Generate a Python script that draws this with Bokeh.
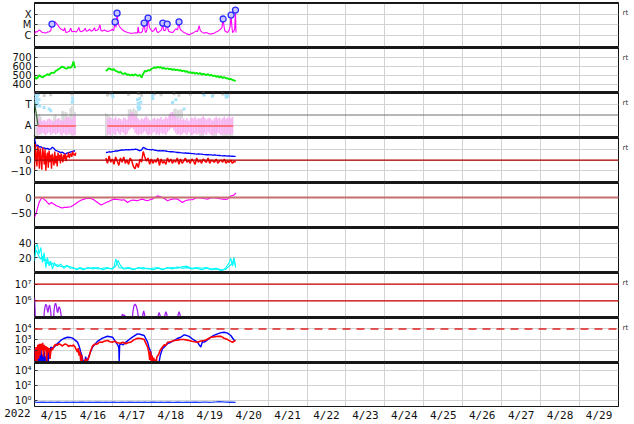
import numpy as np
from bokeh.plotting import figure
from bokeh.layouts import column, row
from bokeh.models import Range1d, FixedTicker, Span, LinearAxis, LogAxis
from bokeh.embed import file_html
from bokeh.resources import INLINE

# ---------------- labels ----------------
day_labels = ["4/15", "4/16", "4/17", "4/18", "4/19", "4/20", "4/21", "4/22",
              "4/23", "4/24", "4/25", "4/26", "4/27", "4/28", "4/29"]
year_label = "2022"
rt_label = "rt"

# ---------------- data (time in hours since 2022-04-15 00 UT) ----------------
# X-ray flux in units of 1e-6 W/m2 (C1 = 1, M1 = 10, X1 = 100)
xray = [(0,1.5),(0.8,2.5),(1.5,2.2),(2.8,3.4),(4,2.6),(4.9,2.0),(6,1.9),(7,1.8),(8,2.2),(9,2.4),
        (10,2.9),(10.8,12),(11.3,14),(12,18),(12.5,20),(13,17),(14,11),(15,7),(16,4.5),(17.3,3.4),
        (18,3.0),(18.6,5.5),(19.3,2.0),(20.5,2.3),(21.5,2.6),(22.3,5.0),(23,2.4),(24.5,2.6),(25.5,2.2),
        (26.5,3.0),(27.3,6.0),(28,2.8),(29,2.4),(30.5,3.2),(31.3,5.0),(32,2.6),(33,3.0),(34,4.0),
        (35,2.7),(36,3.2),(37,5.5),(37.6,2.9),(38.5,3.3),(39.5,4.2),(40.3,10.5),(41,3.0),(42,2.8),
        (43,3.5),(44,3.0),(45,2.5),(46,2.8),(47,3.1),(48,4.0),(48.8,3.0),(49.7,19),(50.2,6),(50.9,120),
        (51.4,24),(52,9),(52.8,5.9),(54.3,3.4),(55.5,2.6),(57.3,2.0),(59.4,1.7),(61,1.8),(62.5,1.9),
        (63.5,1.8),(63.9,6.8),(64.4,1.9),(65.5,1.9),(66.5,2.5),(67.6,15),(68.1,3.0),(68.6,2.0),(69.3,3.5),
        (70,43),(70.5,12),(70.9,5.9),(71.8,3.5),(72.7,2.5),(73.5,3.0),(74.8,5.9),(75.4,2.5),(76.2,2.0),
        (77.2,2.6),(78.3,3.5),(79.1,15),(79.5,4.0),(79.9,2.9),(80.8,3.5),(81.8,12),(82.3,4.0),(82.8,2.5),
        (84,2.2),(85.1,2.0),(86.2,3.0),(87.1,4.5),(88.2,3.5),(89.1,19),(89.6,5.0),(90.2,3.4),(91.2,2.6),
        (92.2,2.0),(93.5,1.6),(95.3,1.25),(96.3,1.5),(97.4,1.7),(98.5,2.2),(99.5,2.7),(100.5,2.5),
        (101.5,8.5),(102.2,3.0),(103.3,2.2),(104.6,1.7),(105.7,2.0),(106.7,1.8),(107.7,1.5),(108.7,1.5),
        (109.7,1.6),(110.7,1.7),(111.8,2.2),(112.8,2.5),(113.8,3.2),(114.9,4.5),(115.6,6.0),(116.3,35),
        (116.8,8.0),(117.3,2.9),(118.2,2.4),(119,2.0),(120,3.5),(120.6,7.0),(121.2,80),(121.6,10),
        (122.1,2.0),(122.8,2.6),(123.4,4.0),(123.9,230),(124.2,2.0)]
flare_h = [10.8, 49.7, 50.9, 67.6, 70.0, 79.1, 81.8, 89.1, 116.3, 121.2, 123.9]
flare_c = [12, 19, 120, 15, 43, 15, 12, 19, 35, 80, 230]

# solar wind speed (km/s), hourly
speed1_start = 0
speed1 = [489, 462, 478, 504, 486, 478, 494, 502, 515, 505, 524, 533, 527, 550, 560, 572,
          584, 600, 590, 580, 577, 592, 585, 598, 655, 582]
speed2_start = 44
speed2 = [548, 566, 580, 570, 562, 571, 550, 545, 532, 540, 522, 518, 527, 508, 512, 500,
          510, 498, 515, 502, 496, 507, 476, 520, 550, 545, 560, 555, 572, 580, 590, 583,
          596, 588, 592, 576, 584, 572, 580, 568, 575, 562, 570, 558, 566, 555, 560, 548,
          556, 540, 548, 530, 538, 526, 534, 520, 530, 515, 528, 510, 518, 512, 505, 515,
          498, 508, 494, 500, 485, 494, 478, 490, 472, 482, 468, 470, 458, 462, 450, 446, 436]

# IMF sector (angle, deg): pink/grey/blue samples
pink1_start = 2
pink1_hi = [205, 195, 180, 176, 185, 172, 190, 196, 188, 178, 170, 186, 192, 200, 185, 176,
            182, 198, 204, 210, 195, 188, 215, 220]
pink1_lo = [70, 62, 75, 80, 66, 58, 72, 84, 60, 68, 76, 64, 70, 82, 62, 56, 74, 66, 58, 70,
            80, 62, 55, 60]
pink2_start = 45
pink2_hi = [200, 190, 205, 185, 195, 210, 188, 200, 192, 180, 205, 198, 186, 210, 235, 250,
            240, 225, 205, 195, 182, 200, 190, 205, 215, 198, 186, 176, 195, 204, 188, 200,
            192, 208, 185, 195, 210, 198, 230, 245, 250, 236, 215, 200, 190, 205, 186, 196,
            182, 200, 175, 190, 205, 196, 210, 188, 200, 195, 205, 215, 200, 188, 196, 205,
            190, 180, 200, 210, 195, 205, 188, 200, 212, 195, 205, 215, 200, 210]
pink2_lo = [60, 72, 55, 80, 66, 58, 90, 70, 62, 85, 75, 58, 68, 95, 110, 120, 105, 80, 66, 58,
            72, 64, 80, 92, 70, 58, 66, 60, 75, 88, 62, 70, 58, 80, 66, 72, 60, 84, 100, 115,
            120, 98, 76, 62, 70, 58, 66, 80, 72, 60, 85, 70, 58, 66, 75, 62, 70, 80, 58, 66,
            72, 60, 84, 70, 58, 66, 75, 62, 80, 70, 58, 66, 72, 60, 68, 75, 62, 70]
grey_ranges = [(0,60,240),(1,55,230),(2,50,220),(3,60,235),(4,65,210),(12,100,215),(13,95,230),
               (17,150,260),(18,140,255),(19,160,250),(20,150,245),(22,60,280),(23,55,300),
               (24,50,270),(25,60,250),(44,50,240),(45,55,230),(46,60,220),(58,170,270),
               (59,180,275),(60,175,265),(61,185,280),(62,170,270),(63,180,260),(86,190,275),
               (87,200,280),(88,195,270),(89,190,265),(90,200,275),(91,195,270),(102,50,190),
               (103,55,185),(104,45,180),(110,50,175),(111,55,185),(112,48,180),(116,50,190),
               (117,55,195),(118,45,185),(119,50,180),(120,45,175),(121,50,185),(122,55,190)]
grey_pts = [(0.5,395),(2,400),(6,385),(10,392),(23,398),(45,390),(47,400),(58,395),(64,402),
            (66,388),(74,398),(78,392),(86,400),(89,388),(96,396),(104,402),(110,395),(116,398),
            (119,392)]
blue_pts = [(0.2,330),(0.5,360),(0.8,390),(1.0,300),(1.2,345),(1.6,370),(2.0,320),(2.4,395),
            (2.8,350),(3.2,300),(5.9,287),(9,274),(10,260),(23.2,330),(23.4,365),(23.6,340),
            (48.1,390),(48.3,375),(63.5,350),(63.8,290),(64,320),(64.2,270),(64.5,300),(64.8,360),
            (65,280),(65.5,330),(72.7,385),(72.9,360),(85.1,328),(87.1,350),(92.2,274),
            (104.6,390),(109.7,380),(118,390),(118.2,370),(119,380)]
sector_h = [0.0, 2.2]
sector_v = [330, 140]
away_segments = [(2.2, 25.5), (45.0, 122.5)]
T_ANGLE, A_ANGLE, MID_ANGLE = 315, 135, 225

# IMF Bt (blue, hourly) and Bz (red; half-hourly on 4/15, hourly afterwards), nT
bt1 = [20, 13, 14, 12, 12.5, 11, 11.5, 10.5, 11, 10, 10.5, 12, 11, 9, 8.5, 8, 7, 7.5, 6.5,
       5.5, 6.5, 7, 7.5, 8, 8.5, 8.5]
bz1_half = [-9, 15, 4, -6, 13, 8, -8, 11, 2, -9, 12, 6, -4, 10, -10, 3, 7, -7, 9, -2, 5, -8, 6,
            1, -5, 8, -3, 4, -6, 7, 0, 5, -3, 6, 2, -2, 5, 1, 6, -1, 4, 3, 7, 2, 5, 6, 3, 8, 5,
            6, 4, 7]
bt2 = [7.1, 7.3, 7.8, 7.5, 8.0, 8.2, 8.7, 8.5, 8.9, 9.2, 9.6, 9.4, 9.7, 9.5, 9.8, 9.6, 10.0,
       9.8, 10.3, 10.1, 9.4, 8.7, 9.6, 11.8, 11.2, 10.3, 10.0, 9.8, 9.6, 9.9, 9.2, 9.0, 8.7,
       8.9, 8.6, 8.8, 8.7, 8.5, 8.2, 8.0, 7.8, 8.0, 7.6, 7.4, 7.1, 7.3, 6.9, 6.7, 6.5, 6.8,
       6.4, 6.5, 6.3, 6.0, 6.1, 5.8, 5.6, 5.8, 5.5, 5.6, 5.3, 5.2, 5.0, 5.2, 4.9, 4.8, 4.7,
       4.9, 4.6, 4.4, 4.3, 4.1, 4.0, 4.2, 4.0, 3.8, 4.0, 3.7, 3.6, 3.5, 3.4]
bz2 = [2, -3, 4, -2, 1, -4, 3, -1, -5, 2, -2, 3, -3, 0, -4, 2, -1, -6, -8, -3, -7, 1, -2, 8, 3,
       -1, 2, -4, 1, -3, 0, -2, 2, -5, 1, -3, -1, -4, 2, -2, 1, -3, 0, -2, 2, -4, 1, -3, -1, 2,
       -2, 0, -3, 1, -1, -4, 2, -2, 0, -3, 1, -1, -2, 2, -3, 0, -1, -2, 1, -3, -1, 0, -2, 1, -3,
       -1, -2, 0, -3, -1, -2]
imf1_start, imf2_start = 0, 44

# Dst index (nT)
dst = [(0,-62),(0.8,-52),(1.8,-35),(2.8,-16),(3.8,-6),(4.9,0),(6,-6),(7,-10),(8,-16),(9,-21),
       (9.8,-18),(10.5,-16),(11.3,-19),(12.1,-21),(13.5,-26),(15.2,-29),(16.3,-32),(17.3,-33),
       (18.3,-31),(19.3,-31),(20.8,-30),(22.4,-29),(23.4,-26),(24.4,-23),(26,-17),(27.5,-12),
       (29,-8),(30.6,-5),(32,-3),(33.7,-2),(34.8,-3),(35.8,-5),(36.8,-8),(37.8,-12),(39.5,-18),
       (40.9,-23),(42,-21),(42.9,-19),(44.5,-15),(46,-12),(47.5,-8),(49.1,-5),(50.5,-6),
       (52.2,-7),(53.7,-8),(55.2,-7),(56.3,-11),(57.3,-16),(58.8,-11),(60.4,-8),(62,-9),
       (63.5,-10),(65,-7),(66.6,-5),(68,-8),(69.7,-10),(71.2,-7),(72.7,-5),(74.2,0),(75.8,5),
       (77.3,3),(78.9,0),(80.5,-5),(82,-10),(83.5,-7),(85.1,-5),(86.6,-4),(88.1,-5),(89.6,-10),
       (91.2,-16),(92.7,-11),(94.3,-8),(95.8,-7),(97.4,-7),(99,-3),(100.5,0),(102,-1),
       (103.6,-2),(105,-4),(106.6,-5),(108.2,-2),(109.7,0),(111.3,-1),(112.8,-2),(114.3,-4),
       (115.9,-5),(117.4,-6),(118.9,-5),(120,0),(121,5),(122,6),(123,8),(124.1,14)]

# sixth panel (cyan), two channels
cyan_a = [(0,15),(0.8,36),(1.8,38),(2.8,25),(3.9,34),(4.9,13),(5.9,27),(7,6),(8,20),(9,8.5),
          (10,15),(11.1,4),(12.1,13),(14.2,7),(16.2,11),(18.2,5),(20,8),(22.4,7),(24,5),(26,4),
          (28,6),(30.6,4),(33,5),(36.8,6),(39,4),(42,5),(45,6),(47,4),(49,7),(50.1,18),(51,12),
          (52.2,6),(55,5),(58,6),(61,4),(64,5),(67,6),(70,4),(73,5),(76,6),(79,4),(82,5),(85,6),
          (88,5),(91,7),(94,8),(97,5),(100,6),(103,5),(106,6),(109,4),(112,5),(115,3),(116.5,3),
          (118,6),(120,13),(121,19),(122,8),(123,16),(124,7)]
cyan_b = [(0,20),(1,30),(2,26),(3,20),(4,18),(5,22),(6,15),(7,18),(8,12),(9,14),(10,10),(11,12),
          (12,9),(14,10),(16,8),(18,7),(20,9),(22,5),(24,6),(26,3),(28,5),(30,3),(33,6),(36,4),
          (39,6),(42,3),(45,5),(48,4),(50,8),(51.5,16),(53,9),(55,4),(58,5),(61,3),(64,6),(67,4),
          (70,5),(73,3),(76,5),(79,3),(82,6),(85,4),(88,7),(91,5),(94,6),(97,4),(100,5),(103,3),
          (106,5),(109,3),(112,4),(115,2),(118,4),(120,8),(122,12),(123,20),(124,6)]

# proton flux, log10
proton_log = [(0,6.2),(0.3,5.6),(0.6,4.5),(5.5,4.5),(6.0,5.3),(6.5,5.65),(7.0,5.8),(7.5,5.7),
              (8.0,5.4),(8.3,5.3),(8.8,5.6),(9.3,5.75),(9.8,5.5),(10.3,5.0),(10.6,4.5),(11.6,4.5),
              (12.0,5.4),(12.5,5.75),(13.0,5.86),(13.5,5.7),(14.0,5.35),(14.4,5.3),(14.8,5.55),
              (15.2,5.65),(15.8,5.5),(16.5,5.1),(17.1,4.5),(44,4.5),(45.5,4.9),(46,5.05),
              (46.5,4.9),(47,4.5),(52.5,4.5),(53.5,5.0),(54.2,5.2),(55.0,5.1),(55.6,5.15),
              (56.3,4.8),(56.8,4.5),(60.0,4.5),(60.6,5.3),(61.3,5.7),(62,5.8),(62.7,5.7),
              (63.5,5.4),(64.3,4.8),(64.6,4.5),(66.3,4.5),(66.8,5.2),(67.3,5.4),(67.8,5.2),
              (68.3,4.6),(75.5,4.5),(76.2,5.1),(76.8,5.3),(77.5,5.1),(78.0,4.5),(79.8,4.5),
              (80.4,5.15),(81,5.35),(81.7,5.15),(82.3,4.5),(87.8,4.5),(88.5,5.15),(89.1,5.35),
              (89.8,5.15),(90.4,4.5),(99.0,4.5),(99.4,5.08),(99.8,4.5),(105.2,4.5),(105.6,5.05),
              (106,4.5),(119.6,4.5),(120,5.05),(120.4,4.5),(124,4.5)]

# electron flux, log10: blue and red channels
elec_blue = [(0,2.2),(0.5,1.0),(1,2.0),(1.5,0.8),(2,1.8),(2.5,0.7),(3,1.5),(3.5,0.8),(4,2.1),
             (4.5,0.9),(5,1.6),(5.5,0.7),(6,1.9),(6.5,0.8),(7,1.4),(7.5,0.8),(8,2.0),(8.5,0.9),
             (9,2.2),(9.5,1.2),(10,2.3),(11,2.2),(12.1,2.3),(14,2.6),(16.2,2.92),(18,3.1),
             (20.3,3.22),(22,3.2),(23.4,3.13),(25,2.95),(26.5,2.76),(27.5,2.4),(28.5,1.83),
             (29.5,1.3),(30,0.9),(30.6,1.06),(31,0.8),(31.5,1.4),(32.5,0.9),(33.7,1.53),(35,2.0),
             (35.8,2.3),(38.8,2.83),(41.9,3.13),(45,3.31),(48.1,3.22),(50.1,2.76),(51.5,2.45),
             (52,2.2),(52.2,1.0),(52.5,2.5),(53.2,2.61),(54.5,2.5),(56.3,2.76),(59.4,3.13),
             (63.5,3.54),(65,3.5),(67.6,3.38),(69.7,2.76),(70.5,2.3),(71.7,1.83),(72.5,1.2),
             (73.0,0.8),(73.7,0.9),(74.3,0.8),(75,1.1),(75.6,0.8),(76.8,0.9),(77.5,1.5),
             (78.9,2.15),(80,2.3),(82,2.61),(84,2.75),(86.1,2.92),(88,3.1),(90.2,3.22),
             (92.2,3.44),(93.5,3.4),(95.3,3.3),(97,3.1),(98.4,2.95),(100.5,2.76),(101.5,2.5),
             (102.5,2.3),(103.5,2.8),(104.6,2.76),(106,2.9),(108.7,3.22),(110.5,3.4),
             (112.8,3.54),(115,3.65),(116.9,3.69),(119,3.6),(121,3.38),(122.3,3.1),(123.1,2.92),
             (123.9,2.95)]
elec_red = [(0,2.15),(0.5,1.0),(1,2.3),(1.5,0.9),(2,2.5),(2.5,1.2),(3,2.61),(3.5,1.5),(4,2.6),
            (4.5,2.0),(5,2.7),(5.5,1.4),(6,2.5),(6.5,2.0),(7,2.4),(7.5,1.0),(8,2.3),(8.5,1.8),
            (9,2.2),(9.5,1.2),(10,1.83),(10.5,2.2),(11,2.0),(12.1,2.4),(13,2.55),(14,2.45),
            (15,2.6),(16.2,2.52),(17,2.4),(18,2.5),(19,2.6),(20.3,2.48),(21,2.35),(22,2.45),
            (23.4,2.4),(24,2.5),(25,2.3),(26.5,1.83),(27,2.2),(27.5,1.5),(28,1.9),(28.5,1.0),
            (29,1.6),(29.5,0.9),(30.6,0.85),(31.5,1.2),(32,0.9),(33.7,1.4),(34.5,1.9),(35.8,2.4),
            (37,2.55),(38.8,2.6),(40,2.75),(41.9,2.76),(43,2.85),(45,2.92),(46.5,2.8),(48.1,2.76),
            (49.5,2.85),(51,2.7),(53,2.65),(54.5,2.75),(56.3,2.61),(57.5,2.7),(59.4,2.76),
            (61,2.95),(63.5,3.13),(65.5,3.1),(67.6,3.0),(69.7,2.3),(70.5,1.8),(71,1.1),(71.5,1.9),
            (72,0.9),(72.5,1.5),(73,0.85),(73.5,1.3),(74,0.85),(74.5,1.1),(75,0.85),(75.5,1.4),
            (76.5,1.6),(77.5,2.0),(78.9,2.3),(80,2.52),(81,2.45),(82,2.75),(84,2.8),(86.1,2.92),
            (88,2.95),(90.2,3.0),(92.2,3.0),(94,2.95),(95.3,2.92),(97,2.85),(98.4,2.8),
            (100.5,2.76),(102,2.85),(104.6,2.92),(106,2.98),(108.7,3.22),(110.5,3.25),
            (112.8,3.31),(115,3.3),(116.9,3.13),(119,3.0),(121,2.83),(122,2.75),(123,2.85),
            (123.9,2.92)]

# bottom panel, log10, every 2 hours from 0
low_start, low_step = 0, 2
low_log = [-0.28, -0.32, -0.27, -0.30, -0.33, -0.29, -0.31, -0.27, -0.30, -0.32, -0.28, -0.31,
           -0.29, -0.33, -0.30, -0.27, -0.31, -0.29, -0.32, -0.28, -0.30, -0.33, -0.29, -0.31,
           -0.27, -0.30, -0.32, -0.28, -0.31, -0.29, -0.30, -0.32, -0.27, -0.31, -0.29, -0.33,
           -0.30, -0.28, -0.31, -0.29, -0.32, -0.28, -0.30, -0.31, -0.27, -0.30, -0.32, -0.29,
           -0.31, -0.28, -0.30, -0.32, -0.29, -0.27, -0.31, -0.29, -0.26, -0.22, -0.25, -0.28,
           -0.30, -0.29, -0.31]

# ---------------- helpers ----------------
def days(h):
    return np.asarray(h, dtype=float) / 24.0

def unzip(pairs):
    a = np.array(pairs, dtype=float)
    return a[:, 0], a[:, 1]

FW, LB, RB, PH = 634, 34, 16, 45
XR = Range1d(0, 15)
GRID = "#d3d3d3"
FONT = "DejaVu Sans"
XFONT = "DejaVu Sans Mono"


def panel(yr, ticks, labels=None, ylog=False, top=0, rt=False):
    p = figure(width=FW, height=PH + top, x_range=XR, y_range=yr,
               y_axis_type="log" if ylog else "linear",
               output_backend="svg", toolbar_location=None,
               min_border_left=LB, min_border_right=RB,
               min_border_top=top, min_border_bottom=0)
    p.outline_line_color = "#111111"
    p.outline_line_width = 1
    p.background_fill_color = "white"
    p.border_fill_color = "white"
    p.xgrid.ticker = FixedTicker(ticks=list(range(1, 15)))
    p.xgrid.grid_line_color = GRID
    yt = FixedTicker(ticks=ticks)
    p.yaxis.ticker = yt
    p.ygrid.ticker = yt
    p.ygrid.grid_line_color = GRID
    ax = p.yaxis[0]
    ax.major_tick_in = 3
    ax.major_tick_out = 0
    ax.major_tick_line_color = "#333333"
    ax.minor_tick_line_color = None
    ax.axis_line_color = None
    ax.major_label_text_font = FONT
    ax.major_label_text_font_size = "10px"
    ax.major_label_text_color = "#111111"
    ax.major_label_standoff = 3
    if labels:
        ax.major_label_overrides = labels
    for loc in (yr.start, yr.end):
        p.add_layout(Span(location=loc, dimension="width", line_color="#1a1a1a", line_width=3))
    p.xaxis.visible = False
    if rt:
        # "rt" marker placed 10 px below the top of the panel, in the right margin
        frac = 10.0 / PH
        if ylog:
            lo, hi = np.log10(yr.start), np.log10(yr.end)
            yv = float(10 ** (hi - frac * (hi - lo)))
            rax = LogAxis()
        else:
            yv = float(yr.end - frac * (yr.end - yr.start))
            rax = LinearAxis()
        rax.ticker = FixedTicker(ticks=[yv])
        rax.major_label_overrides = {yv: rt_label}
        rax.major_tick_in = 0
        rax.major_tick_out = 0
        rax.minor_tick_line_color = None
        rax.axis_line_color = None
        rax.major_label_standoff = 4
        rax.major_label_text_font = FONT
        rax.major_label_text_font_size = "7px"
        rax.major_label_text_color = "#333333"
        p.add_layout(rax, "right")
    return p


def label_strip(width, xr, ticks, overrides, right):
    f = figure(width=width, height=17, x_range=xr, y_range=Range1d(0, 1),
               y_axis_location=None, output_backend="svg", toolbar_location=None,
               min_border_left=0, min_border_right=right, min_border_top=0,
               min_border_bottom=15)
    f.outline_line_color = None
    f.grid.visible = False
    a = f.xaxis[0]
    a.ticker = FixedTicker(ticks=ticks)
    a.major_label_overrides = overrides
    a.major_tick_in = 0
    a.major_tick_out = 0
    a.minor_tick_line_color = None
    a.axis_line_color = None
    a.major_label_standoff = 1
    a.major_label_text_font = XFONT
    a.major_label_text_font_size = "11px"
    a.major_label_text_color = "#111111"
    return f

panels = []

# 1: X-ray flux
p1 = panel(Range1d(0.085, 1150), [1, 10, 100], {1: "C", 10: "M", 100: "X"}, ylog=True, top=2, rt=True)
xh, xc = unzip(xray)
p1.line(days(xh), xc, line_color="#ff00ff", line_width=1.1)
p1.scatter(days(flare_h), flare_c, marker="circle", size=6, fill_color="#c8c8ff",
           line_color="#2a2aff", line_width=1.3)
panels.append(p1)

# 2: solar wind speed
p2 = panel(Range1d(311, 811), [400, 500, 600, 700], rt=True)
p2.line(days(speed1_start + np.arange(len(speed1))), speed1, line_color="#00ee00", line_width=1.8)
p2.line(days(speed2_start + np.arange(len(speed2))), speed2, line_color="#00ee00", line_width=1.8)
panels.append(p2)

# 3: sector T / A
p3 = panel(Range1d(40, 410), [A_ANGLE, T_ANGLE], {A_ANGLE: "A", T_ANGLE: "T"}, rt=True)
p3.add_layout(Span(location=MID_ANGLE, dimension="width", line_color="#6e6e6e", line_width=1.2))
g = np.array(grey_ranges, dtype=float)
p3.vbar(x=days(g[:, 0]), width=1 / 24, bottom=g[:, 1], top=g[:, 2], fill_color="#d9d9d9", line_color=None)
gx, gy = unzip(grey_pts)
p3.scatter(days(gx), gy, marker="square", size=3, fill_color="#d0d0d0", line_color=None)
n1 = min(len(pink1_hi), len(pink1_lo))
p3.vbar(x=days(pink1_start + np.arange(n1)), width=1 / 24, bottom=pink1_lo[:n1], top=pink1_hi[:n1],
        fill_color="#f7b6f3", line_color=None)
n2 = min(len(pink2_hi), len(pink2_lo))
p3.vbar(x=days(pink2_start + np.arange(n2)), width=1 / 24, bottom=pink2_lo[:n2], top=pink2_hi[:n2],
        fill_color="#f7b6f3", line_color=None)
bx, by = unzip(blue_pts)
p3.scatter(days(bx), by, marker="square", size=3, fill_color="#a6e3fb", line_color=None)
p3.line(days(sector_h), sector_v, line_color="#2f6b2f", line_width=1.2)
for a, b in away_segments:
    p3.line(days([a, b]), [A_ANGLE, A_ANGLE], line_color="#ff5a5a", line_width=1.5)
panels.append(p3)

# 4: IMF Bt / Bz
p4 = panel(Range1d(-20.9, 21.1), [-10, 0, 10], {-10: "\u221210", 0: "0", 10: "10"}, rt=True)
p4.add_layout(Span(location=0, dimension="width", line_color="#b00000", line_width=1.3))
p4.line(days(imf1_start + np.arange(len(bt1))), bt1, line_color="#0000ff", line_width=1.3)
p4.line(days(imf2_start + np.arange(len(bt2))), bt2, line_color="#0000ff", line_width=1.3)
p4.line(days(imf1_start + 0.5 * np.arange(len(bz1_half))), bz1_half, line_color="#ff0000", line_width=1.4)
p4.line(days(imf2_start + np.arange(len(bz2))), bz2, line_color="#ff0000", line_width=1.5)
panels.append(p4)

# 5: Dst
p5 = panel(Range1d(-94, 47), [-50, 0], {-50: "\u221250", 0: "0"})
p5.add_layout(Span(location=0, dimension="width", line_color="#c86e6e", line_width=2))
dh, dv = unzip(dst)
p5.line(days(dh), dv, line_color="#ff00ff", line_width=1.2)
panels.append(p5)

# 6: cyan channels
p6 = panel(Range1d(-0.8, 61.7), [20, 40])
ah, av = unzip(cyan_a)
bh, bv = unzip(cyan_b)
p6.line(days(bh), bv, line_color="#00f0f0", line_width=1.1)
p6.line(days(ah), av, line_color="#00ffff", line_width=1.1)
panels.append(p6)

# 7: proton flux
p7 = panel(Range1d(1e5, 10 ** 7.7), [1e6, 1e7], {1e6: "10\u2076", 1e7: "10\u2077"}, ylog=True, rt=True)
for lv in (1e6, 1e7):
    p7.add_layout(Span(location=lv, dimension="width", line_color="#cc0000", line_width=1.3))
ph_, pv_ = unzip(proton_log)
p7.line(days(ph_), 10 ** pv_, line_color="#a020f0", line_width=1.3)
panels.append(p7)

# 8: electron flux
p8 = panel(Range1d(10 ** 0.85, 10 ** 5.07), [1e2, 1e3, 1e4],
           {1e2: "10\u00b2", 1e3: "10\u00b3", 1e4: "10\u2074"}, ylog=True, rt=True)
p8.add_layout(Span(location=1e4, dimension="width", line_color="#e02424", line_width=1.5,
                   line_dash="8 6"))
ebh, ebv = unzip(elec_blue)
erh, erv = unzip(elec_red)
p8.line(days(ebh), 10 ** ebv, line_color="#0000ff", line_width=1.4)
p8.line(days(erh), 10 ** erv, line_color="#ff0000", line_width=1.6)
panels.append(p8)

# 9: bottom panel
p9 = panel(Range1d(0.1, 1e5), [1, 1e2, 1e4], {1: "10\u2070", 1e2: "10\u00b2", 1e4: "10\u2074"},
           ylog=True)
p9.line(days(low_start + low_step * np.arange(len(low_log))), 10 ** np.array(low_log),
        line_color="#2040ff", line_width=1.3)
panels.append(p9)

# date labels: year in the left margin, day labels under the panels
yf = label_strip(LB, Range1d(0, 1), [0.5], {0.5: year_label}, 0)
af = label_strip(FW - LB, XR, [i + 0.5 for i in range(len(day_labels))],
                 {i + 0.5: lab for i, lab in enumerate(day_labels)}, RB)

layout = column(*panels, row(yf, af, spacing=0), spacing=0)
open("out.html", "w").write(file_html(layout, INLINE))
